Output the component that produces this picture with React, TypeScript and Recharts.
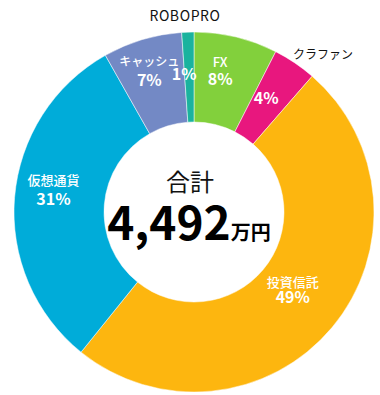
import React from 'react';
import { PieChart, Pie, Cell } from 'recharts';

// 資産内訳（万円）
const categories = ['FX', 'クラファン', '投資信託', '仮想通貨', 'キャッシュ', 'ROBOPRO'];
const amounts = [337, 175, 2219, 1393, 319, 49];
const colors = ['#82d03c', '#e8177e', '#fdb60f', '#00acd9', '#7389c5', '#1ab39e'];

const FONT = '"Noto Sans CJK JP", "Noto Sans", sans-serif';
const CX = 189;
const CY = 207;
const RAD = Math.PI / 180;

// label fine-tuning: [dx, dy, line gap, name font size]
const labelTweak: Record<string, number[]> = {
  FX: [-1, -3, 16, 13],
  クラファン: [0, 4, 0, 12],
  投資信託: [-2, -7, 15, 13],
  仮想通貨: [2, -7, 18, 13],
  キャッシュ: [0, -5, 19, 12],
  ROBOPRO: [0, 4, 0, 14],
};

const data = categories.map((name, i) => ({ name, value: amounts[i] }));
const total = amounts.reduce((a, b) => a + b, 0);

const renderLabel = (props: any) => {
  const { midAngle, percent, name } = props;
  const [dx, dy, gap, fs] = labelTweak[name] || [0, 0, 16, 13];
  const r = 138;
  const x = CX + r * Math.cos(-midAngle * RAD) + dx;
  const y = CY + r * Math.sin(-midAngle * RAD) + dy;
  const pct = `${Math.round(percent * 100)}%`;

  if (name === 'ROBOPRO' || name === 'クラファン') {
    // small slices: the name sits outside the ring in black
    const nx = name === 'ROBOPRO' ? 185 : CX + 134;
    const ny = name === 'ROBOPRO' ? 15 : CY - 154;
    return (
      <g>
        <text x={nx} y={ny} textAnchor="middle" dominantBaseline="central"
          fill="#111" fontSize={fs} fontFamily={FONT}
          letterSpacing={name === 'ROBOPRO' ? 0.6 : 0}>
          {name}
        </text>
        <text x={x} y={y} textAnchor="middle" dominantBaseline="central"
          fill="#fff" fontSize={16} fontWeight="bold" fontFamily={FONT}>
          {pct}
        </text>
      </g>
    );
  }

  return (
    <g>
      <text x={x} y={y - gap / 2} textAnchor="middle" dominantBaseline="central"
        fill="#fff" fontSize={fs} fontWeight={500} fontFamily={FONT}>
        {name}
      </text>
      <text x={x} y={y + gap / 2} textAnchor="middle" dominantBaseline="central"
        fill="#fff" fontSize={16} fontWeight="bold" fontFamily={FONT}>
        {pct}
      </text>
    </g>
  );
};

export default function App() {
  return (
    <div style={{ position: 'absolute', left: 0, top: 0, background: '#fff' }}>
      <PieChart width={380} height={395}>
        <Pie
          data={data}
          dataKey="value"
          nameKey="name"
          cx={CX}
          cy={CY}
          innerRadius={90}
          outerRadius={180}
          startAngle={90}
          endAngle={-270}
          stroke="#fff"
          strokeWidth={0.5}
          label={renderLabel}
          labelLine={false}
          isAnimationActive={false}
        >
          {data.map((d, i) => (
            <Cell key={d.name} fill={colors[i]} />
          ))}
        </Pie>
        <text x={CX + 1} y={CY - 27} textAnchor="middle" dominantBaseline="central"
          fill="#111" fontSize={24} fontFamily={FONT}>
          合計
        </text>
        <text x={CX} y={CY + 33} textAnchor="middle" fill="#000" fontFamily={FONT}>
          <tspan fontSize={46} fontWeight="bold">{total.toLocaleString('en-US')}</tspan>
          <tspan fontSize={20} fontWeight="bold">万円</tspan>
        </text>
      </PieChart>
    </div>
  );
}
